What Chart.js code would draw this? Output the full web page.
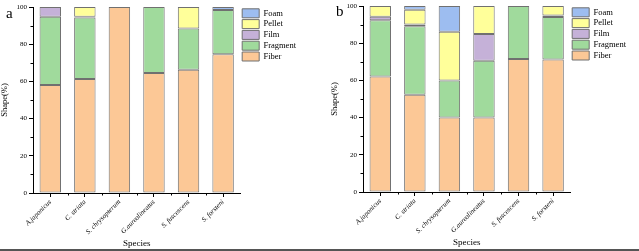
<!DOCTYPE html>
<html>
<head>
<meta charset="utf-8">
<script src="https://cdn.jsdelivr.net/npm/chart.js@4.4.1/dist/chart.umd.min.js"></script>
<style>
  html,body{margin:0;padding:0;background:#fff;}
  body{width:639px;height:251px;position:relative;overflow:hidden;font-family:"Liberation Serif",serif;}
  .panel{position:absolute;top:0;width:309px;height:251px;}
  .lbl{position:absolute;font-family:"Liberation Serif",serif;font-size:15px;color:#000;}
  .rule{position:absolute;left:0;top:249px;width:639px;height:2px;background:#555;}
</style>
</head>
<body>
<div class="panel" id="pa" style="left:0px;"><canvas id="ca" width="309" height="251"></canvas></div>
<div class="panel" id="pb" style="left:330px;top:-1px;"><canvas id="cb" width="309" height="251"></canvas></div>
<div class="lbl" style="left:6px;top:5px;">a</div>
<div class="lbl" style="left:336px;top:3px;">b</div>
<div class="rule"></div>
<script>
const species = ["A.japonicus", "C. striata", "S. chrysopterum", "G.aureolineatus", "S. fuscescens", "S. forsteni"];
const shapeTypes = ["Fiber", "Fragment", "Film", "Pellet", "Foam"];
const yTicks = [0, 20, 40, 60, 80, 100];

// Panel a (%)
const fiberA    = [58.0, 61.3, 100, 64.5, 66.3, 74.6];
const fragmentA = [36.8, 33.0, null, 35.5, 22.1, 23.8];
const filmA     = [5.2, 0.5, null, null, null, null];
const pelletA   = [null, 5.2, null, null, 11.6, null];
const foamA     = [null, null, null, null, null, 1.6];

// Panel b (%)
const fiberB    = [62.1, 52.3, 40.0, 40.0, 71.5, 71.2];
const fragmentB = [30.3, 36.8, 20.0, 30.5, 28.5, 22.9];
const filmB     = [1.8, 1.0, null, 14.5, null, 0.8];
const pelletB   = [5.8, 7.9, 26.1, 15.0, null, 5.1];
const foamB     = [null, 2.0, 13.9, null, null, null];

const colors = {
  Fiber: "#FCC896",
  Fragment: "#A0DA9C",
  Film: "#C5B1D8",
  Pellet: "#FFFF9A",
  Foam: "#9DBDF0"
};

const minorTicks = {
  id: "minorTicks",
  afterDraw(chart) {
    const ctx = chart.ctx;
    const y = chart.scales.y, x = chart.scales.x;
    ctx.save();
    ctx.strokeStyle = "#000";
    ctx.lineWidth = 1;
    ctx.beginPath();
    for (let v = 10; v < 100; v += 20) {
      const py = Math.round(y.getPixelForValue(v)) + 0.5;
      ctx.moveTo(x.left - 2.5, py);
      ctx.lineTo(x.left, py);
    }
    for (let i = 0; i < species.length - 1; i++) {
      const px = Math.round((x.getPixelForValue(i) + x.getPixelForValue(i + 1)) / 2) + 0.5;
      ctx.moveTo(px, y.bottom);
      ctx.lineTo(px, y.bottom + 2.5);
    }
    ctx.stroke();
    ctx.restore();
  }
};

function makeChart(id, series) {
  const datasets = shapeTypes.map((name, k) => ({
    label: name,
    data: series[k],
    backgroundColor: colors[name],
    borderColor: "#707070",
    borderWidth: 1,
    borderSkipped: false,
    barPercentage: 0.62,
    categoryPercentage: 1.0
  }));
  return new Chart(document.getElementById(id), {
    type: "bar",
    data: { labels: species, datasets },
    plugins: [minorTicks],
    options: {
      responsive: false,
      animation: false,
      devicePixelRatio: 1,
      layout: { padding: { top: 7, left: 0, right: 3, bottom: 2 } },
      plugins: {
        tooltip: { enabled: false },
        legend: {
          position: "right",
          align: "start",
          reverse: true,
          labels: {
            boxWidth: 17,
            boxHeight: 9,
            padding: 1.8,
            color: "#000",
            font: { family: "Liberation Serif", size: 8.5 }
          }
        }
      },
      scales: {
        x: {
          stacked: true,
          grid: { display: true, drawOnChartArea: false, offset: false, tickLength: 4, color: "#000", tickColor: "#000" },
          border: { color: "#000", width: 1 },
          ticks: {
            minRotation: 45, maxRotation: 45, padding: 1, color: "#000",
            font: { family: "Liberation Serif", size: 7, style: "italic" }
          },
          title: { display: true, text: "Species", color: "#000", padding: { top: 0, bottom: 0 }, font: { family: "Liberation Serif", size: 9 } },
          afterFit(s) { s.height = 56; }
        },
        y: {
          stacked: true,
          min: 0, max: 100,
          afterBuildTicks(s) { s.ticks = yTicks.map(v => ({ value: v })); },
          grid: { display: true, drawOnChartArea: false, tickLength: 4, color: "#000", tickColor: "#000" },
          border: { color: "#000", width: 1 },
          ticks: { padding: 2, color: "#000", font: { family: "Liberation Serif", size: 7 } },
          title: { display: true, text: "Shape(%)", color: "#000", padding: { top: 0, bottom: 2 }, font: { family: "Liberation Serif", size: 8.5 } },
          afterFit(s) { s.width = 33; }
        }
      }
    }
  });
}

makeChart("ca", [fiberA, fragmentA, filmA, pelletA, foamA]);
makeChart("cb", [fiberB, fragmentB, filmB, pelletB, foamB]);
</script>
</body>
</html>
